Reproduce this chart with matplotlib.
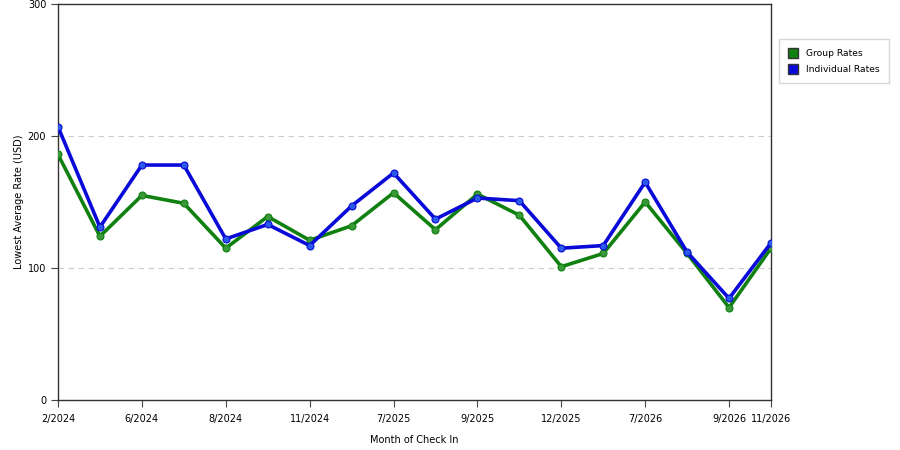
import matplotlib.pyplot as plt
import matplotlib.patches as mpatches
import numpy as np

months = ["2/2024", "", "6/2024", "", "8/2024", "", "11/2024", "", "7/2025", "",
          "9/2025", "", "12/2025", "", "7/2026", "", "9/2026", "11/2026"]
group_rates = [186, 124, 155, 149, 115, 139, 121, 132, 157, 129,
               156, 140, 101, 111, 150, 111, 70, 115]
individual_rates = [207, 131, 178, 178, 122, 133, 117, 147, 172, 137,
                    153, 151, 115, 117, 165, 112, 77, 119]

green = "#108010"
blue = "#0a0ad8"

plt.rcParams['font.family'] = ['DejaVu Sans']
fig = plt.figure(figsize=(9, 4.5), dpi=100)
ax = fig.add_axes([58 / 900, 50 / 450, (771 - 58) / 900, (400 - 4) / 450])

x = np.arange(len(months))
ax.plot(x, group_rates, color=green, lw=2.6, marker='o', ms=5,
        mfc="#3a9a3a", mec=green, mew=0.8, zorder=3)
ax.plot(x, individual_rates, color=blue, lw=2.6, marker='o', ms=5,
        mfc="#2a5ae8", mec=blue, mew=0.8, zorder=4)

ax.set_xlim(0, len(months) - 1)
ax.set_ylim(0, 300)
tick_idx = [i for i, m in enumerate(months) if m]
ax.set_xticks(tick_idx)
ax.set_xticklabels([months[i] for i in tick_idx], fontsize=7)
ax.set_yticks([0, 100, 200, 300])
ax.tick_params(axis='y', labelsize=7, length=5, width=0.8, color="#444444")
ax.tick_params(axis='x', length=5, width=0.8, color="#444444", pad=5)
for y in [100, 200]:
    ax.axhline(y, color="#cccccc", lw=0.8, ls=(0, (5, 4)), zorder=1)
for s in ax.spines.values():
    s.set_color("#333333")
    s.set_linewidth(1)

ax.set_xlabel("Month of Check In", fontsize=7, labelpad=8)
ax.set_ylabel("Lowest Average Rate (USD)", fontsize=7, labelpad=3)

handles = [mpatches.Patch(facecolor=green, edgecolor="#333333", label="Group Rates"),
           mpatches.Patch(facecolor=blue, edgecolor="#333333", label="Individual Rates")]
fig.legend(handles=handles, loc="upper left", bbox_to_anchor=(779 / 900, 1 - 39 / 450),
           borderaxespad=0, fontsize=6.6, frameon=True, fancybox=False, edgecolor="#cccccc",
           handlelength=1.1, handleheight=1.3, handletextpad=0.9,
           borderpad=1.0, labelspacing=0.6)

fig.savefig("out.png", dpi=100)
